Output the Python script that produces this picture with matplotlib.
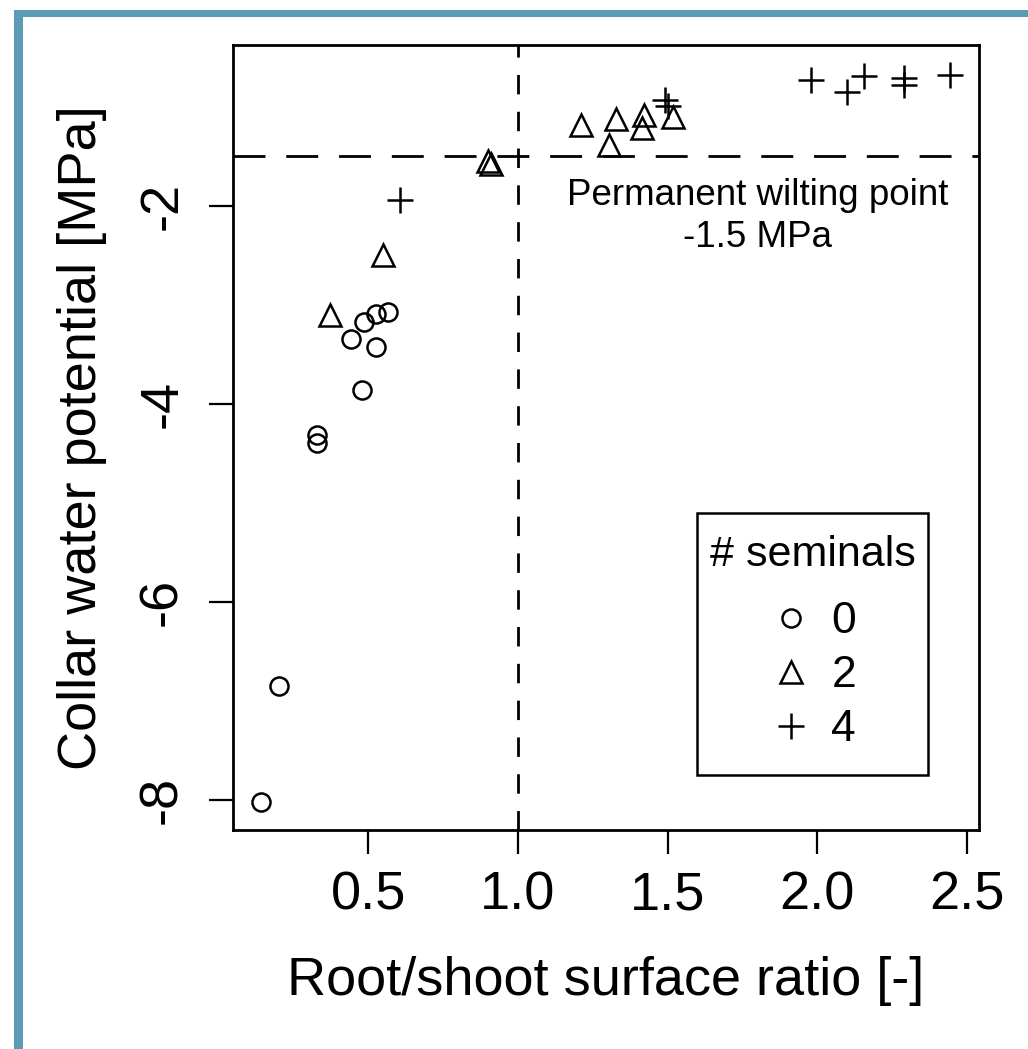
import matplotlib
matplotlib.use("Agg")
import matplotlib.pyplot as plt
from matplotlib.patches import Rectangle
from matplotlib.lines import Line2D

plt.rcParams['font.family'] = ['Liberation Sans', 'DejaVu Sans']
plt.rcParams['axes.unicode_minus'] = False
plt.rcParams['lines.scale_dashes'] = False

# ---- data ----
x_sem0 = [0.142, 0.203, 0.330, 0.330, 0.481, 0.442, 0.525, 0.488, 0.525, 0.566]
y_sem0 = [-8.017, -6.85, -4.31, -4.39, -3.856, -3.345, -3.426, -3.167, -3.093, -3.066]

x_sem2 = [0.373, 0.549, 0.900, 0.910, 1.21, 1.328, 1.303, 1.422, 1.414, 1.519]
y_sem2 = [-3.10, -2.50, -1.55, -1.58, -1.183, -1.124, -1.385, -1.082, -1.214, -1.099]

x_sem4 = [0.607, 1.49, 1.50, 1.98, 2.10, 2.156, 2.29, 2.29, 2.443]
y_sem4 = [-1.94, -0.93, -0.99, -0.728, -0.846, -0.688, -0.711, -0.779, -0.678]

wilting_point = -1.5
ratio_threshold = 1.0

x_ticks = [0.5, 1.0, 1.5, 2.0, 2.5]
x_ticklabels = ["0.5", "1.0", "1.5", "2.0", "2.5"]
y_ticks = [-2, -4, -6, -8]
y_ticklabels = ["-2", "-4", "-6", "-8"]
legend_labels = ["0", "2", "4"]

W, H = 1028, 1049
fig = plt.figure(figsize=(W / 100, H / 100), dpi=100)
fig.patch.set_facecolor('white')

# blue frame (left and top edges visible)
frame_col = '#5b9bb6'
fig.patches.append(Rectangle((14 / W, 0), 9 / W, 1 - 10 / H, transform=fig.transFigure,
                             facecolor=frame_col, edgecolor='none', zorder=0))
fig.patches.append(Rectangle((14 / W, 1 - 17 / H), 1 - 14 / W, 7 / H, transform=fig.transFigure,
                             facecolor=frame_col, edgecolor='none', zorder=0))

ax = fig.add_axes([233 / W, 1 - 830 / H, (979 - 233) / W, (830 - 45) / H])
ax.set_xlim(0.049, 2.540)
ax.set_ylim(-8.30, -0.375)

mew = 1.8
ax.plot(x_sem0, y_sem0, linestyle='none', marker='o', ms=13, mfc='none', mec='black', mew=mew, zorder=3)
ax.plot(x_sem2, y_sem2, linestyle='none', marker='^', ms=16, mfc='none', mec='black', mew=mew, zorder=3)
ax.plot(x_sem4, y_sem4, linestyle='none', marker='+', ms=19, mec='black', mew=mew, zorder=3)

ax.axhline(wilting_point, color='black', lw=2.0, dashes=(23, 15), zorder=2)
ax.axvline(ratio_threshold, color='black', lw=2.0, dashes=(14, 12.5), zorder=2)

ax.text(1.80, -1.990, "Permanent wilting point", ha='center', va='baseline', fontsize=26.5)
ax.text(1.80, -2.414, "-1.5 MPa", ha='center', va='baseline', fontsize=26.5)

ax.set_xticks(x_ticks)
ax.set_xticklabels(x_ticklabels)
ax.set_yticks(y_ticks)
ax.set_yticklabels(y_ticklabels, rotation=90, va='center')
ax.tick_params(axis='both', direction='out', length=17, width=1.6, labelsize=39, color='black')
ax.tick_params(axis='x', pad=12)
ax.tick_params(axis='y', pad=16)
for s in ax.spines.values():
    s.set_linewidth(2.0)

ax.set_xlabel("Root/shoot surface ratio [-]", fontsize=39, labelpad=26)
ax.set_ylabel("Collar water potential [MPa]", fontsize=39, labelpad=22)

# legend box (R style, drawn as a plain rectangle) and its contents
ax.add_patch(Rectangle((0.622, 0.070), 0.310, 0.334, transform=ax.transAxes,
                       facecolor='white', edgecolor='black', lw=1.8, zorder=4))
handles = [
    Line2D([], [], linestyle='none', marker='o', ms=13, mfc='none', mec='black', mew=mew),
    Line2D([], [], linestyle='none', marker='^', ms=16, mfc='none', mec='black', mew=mew),
    Line2D([], [], linestyle='none', marker='+', ms=19, mec='black', mew=mew),
]
leg = ax.legend(handles, legend_labels, title="# seminals", loc='upper center',
                bbox_to_anchor=(0.777, 0.390), borderaxespad=0, fontsize=32,
                title_fontsize=31, frameon=False, handlelength=1.0, handletextpad=0.4,
                labelspacing=0.29, borderpad=0.25, alignment='center')
leg.set_zorder(5)
leg._legend_box.sep = 19

fig.savefig("out.png", dpi=100, facecolor='white')
